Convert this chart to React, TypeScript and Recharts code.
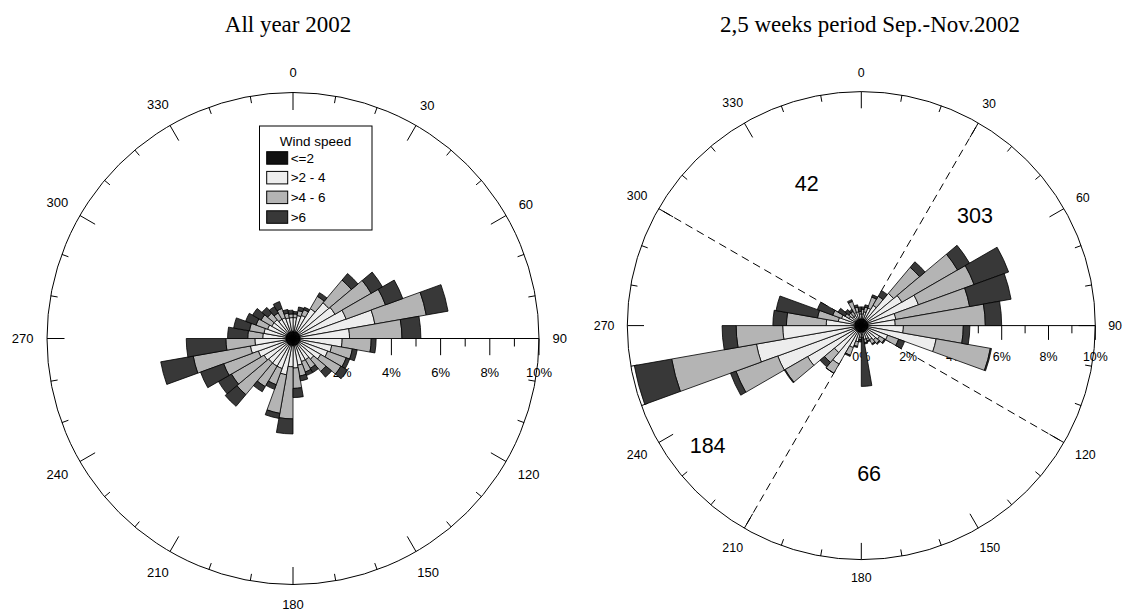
import React from 'react';
import {
  RadialBarChart,
  RadialBar,
  RadarChart,
  Radar,
  PolarAngleAxis,
  PolarRadiusAxis,
  PolarGrid,
} from 'recharts';

const W = 1123;
const H = 611;
const SANS = '"Liberation Sans", Arial, Helvetica, sans-serif';
const SERIF = '"Liberation Serif", "Times New Roman", serif';

// ---- categories / ticks ----
const sectorCentres = [5, 15, 25, 35, 45, 55, 65, 75, 85, 95, 105, 115, 125, 135, 145, 155, 165, 175, 185, 195, 205, 215, 225, 235, 245, 255, 265, 275, 285, 295, 305, 315, 325, 335, 345, 355];
const compassTicks = [0, 10, 20, 30, 40, 50, 60, 70, 80, 90, 100, 110, 120, 130, 140, 150, 160, 170, 180, 190, 200, 210, 220, 230, 240, 250, 260, 270, 280, 290, 300, 310, 320, 330, 340, 350];
const percentTicks = [0, 1, 2, 3, 4, 5, 6, 7, 8, 9, 10];
const speedClasses = ['<=2', '>2 - 4', '>4 - 6', '>6'];
const titles = ['All year 2002', '2,5 weeks period Sep.-Nov.2002'];

// ---- All year 2002: cumulative frequency (%) up to each speed class ----
const yearTo2 = [0.3, 0.3, 0.3, 0.3, 0.3, 0.3, 0.3, 0.3, 0.3, 0.3, 0.3, 0.3, 0.3, 0.3, 0.3, 0.3, 0.3, 0.3, 0.3, 0.3, 0.3, 0.3, 0.3, 0.3, 0.3, 0.3, 0.3, 0.3, 0.3, 0.3, 0.3, 0.3, 0.3, 0.3, 0.3, 0.3];
const yearTo4 = [0.85, 0.95, 1.0, 1.4, 1.9, 1.97, 2.3, 3.38, 2.3, 2.0, 1.6, 1.5, 1.3, 1.1, 1.0, 1.0, 1.1, 1.2, 1.15, 1.5, 1.3, 1.3, 1.3, 1.36, 1.5, 1.76, 1.55, 1.23, 1.2, 1.1, 1.0, 1.0, 0.9, 0.9, 0.85, 0.85];
const yearTo6 = [1.0, 1.15, 1.25, 1.98, 3.1, 3.67, 4.0, 5.5, 4.43, 3.18, 2.45, 2.3, 2.25, 1.75, 1.4, 1.45, 1.55, 2.03, 3.27, 3.09, 2.0, 2.26, 2.98, 2.89, 3.0, 4.12, 2.73, 1.84, 1.8, 1.6, 1.5, 1.35, 1.2, 1.3, 1.05, 1.0];
const yearTotal = [1.1, 1.3, 1.35, 2.15, 3.45, 4.2, 4.75, 6.4, 5.2, 3.38, 2.65, 2.45, 2.55, 2.05, 1.6, 1.6, 1.75, 2.4, 3.88, 3.3, 2.2, 2.5, 3.6, 3.5, 4.0, 5.46, 4.34, 2.66, 2.45, 2.05, 1.9, 1.65, 1.5, 1.6, 1.2, 1.15];

// ---- 2,5 weeks Sep.-Nov. 2002 ----
const autumnTo2 = [0.3, 0.3, 0.3, 0.3, 0.3, 0.3, 0.3, 0.3, 0.3, 0.3, 0.3, 0.3, 0.3, 0.3, 0.3, 0.3, 0.3, 0.3, 0.3, 0.3, 0.3, 0.3, 0.3, 0.3, 0.3, 0.3, 0.3, 0.3, 0.3, 0.3, 0.3, 0.3, 0.3, 0.3, 0.3, 0.3];
const autumnTo4 = [0.5, 0.6, 0.8, 1.0, 1.8, 2.0, 2.6, 1.5, 1.45, 1.8, 3.25, 1.2, 0.9, 0.8, 0.7, 0.6, 0.6, 0.4, 0.5, 0.7, 1.0, 1.9, 1.5, 2.65, 3.8, 4.55, 3.36, 1.5, 1.0, 0.9, 0.6, 0.5, 0.5, 0.6, 0.6, 0.5];
const autumnTo6 = [0.7, 0.8, 1.3, 1.45, 3.25, 4.75, 5.13, 4.7, 5.3, 4.36, 5.6, 1.7, 1.15, 1.0, 0.9, 0.7, 0.75, 0.5, 0.6, 0.9, 1.35, 2.35, 2.05, 3.76, 5.7, 8.23, 5.35, 3.2, 1.9, 1.3, 0.8, 0.7, 0.7, 1.1, 0.8, 0.6];
const autumnTotal = [0.8, 0.9, 1.4, 1.73, 3.56, 5.34, 6.7, 6.5, 6.0, 4.64, 5.65, 1.97, 1.2, 1.05, 0.95, 0.75, 0.8, 2.6, 0.7, 0.95, 1.4, 2.35, 2.3, 3.8, 5.95, 9.85, 5.95, 3.78, 3.7, 2.0, 1.15, 0.9, 0.8, 1.18, 0.9, 0.8];

// sector counts between the dashed bounds (right rose)
const quadrantCounts = ['42', '303', '66', '184'];
const quadrantBounds = [30, 120, 210, 300];

// ---- styling ----
const classKeys = ['s1', 's2', 's3', 's4'];
const classColors = ['#111111', '#ededed', '#b4b4b4', '#383838'];

type Frame = {
  cx: number; cy: number; r: number; fs: number;
  major: number; minor: number; rLong: number; rShort: number; rLabel: number;
};

const LEFT: Frame = { cx: 293, cy: 338.5, r: 246, fs: 13, major: 17.5, minor: 7, rLong: 16.7, rShort: 8, rLabel: 33.5 };
const RIGHT: Frame = { cx: 861.3, cy: 325.6, r: 234, fs: 12.4, major: 16.7, minor: 6.7, rLong: 14.3, rShort: 7.7, rLabel: 31 };

// label placement for quadrant counts (bearing, distance from centre)
const quadrantLabelPos = [
  { bearing: 339, dist: 152 },
  { bearing: 46, dist: 158 },
  { bearing: 177, dist: 149 },
  { bearing: 232, dist: 195 },
];

function buildRose(to2: number[], to4: number[], to6: number[], total: number[]) {
  return sectorCentres.map((dir, i) => ({
    dir,
    s1: to2[i],
    s2: +(to4[i] - to2[i]).toFixed(3),
    s3: +(to6[i] - to4[i]).toFixed(3),
    s4: +(total[i] - to6[i]).toFixed(3),
  }));
}

const yearData = buildRose(yearTo2, yearTo4, yearTo6, yearTotal);
const autumnData = buildRose(autumnTo2, autumnTo4, autumnTo6, autumnTotal);
const frameData = compassTicks.map((dir) => ({ dir, zero: 0 }));

const makeAngleTick = (f: Frame) => (props: any) => {
  const value = Number(props?.payload?.value);
  const coord = Number(props?.payload?.coordinate);
  const rad = (coord * Math.PI) / 180;
  const ux = Math.cos(rad);
  const uy = -Math.sin(rad);
  const isMajor = value % 30 === 0;
  const len = isMajor ? f.major : f.minor;
  const s = f.r / 246;
  const x1 = f.cx + f.r * ux;
  const y1 = f.cy + f.r * uy;
  const x2 = f.cx + (f.r - len) * ux;
  const y2 = f.cy + (f.r - len) * uy;
  let label: React.ReactNode = null;
  if (isMajor) {
    const txt = String(value);
    const w = txt.length * 0.556 * f.fs;
    const d = f.r + 13.5 * s + (Math.abs(ux) * w) / 2 + Math.abs(uy) * 6.3 * s;
    label = (
      <text x={f.cx + d * ux} y={f.cy + d * uy} textAnchor="middle" dominantBaseline="central"
        fontSize={f.fs} fontFamily={SANS} fill="#000" stroke="none">{txt}</text>
    );
  }
  return (
    <g>
      <line x1={x1} y1={y1} x2={x2} y2={y2} stroke="#000" strokeWidth={1} />
      {label}
    </g>
  );
};

const makeRadiusTick = (f: Frame) => (props: any) => {
  const x = Number(props.x);
  const y = Number(props.y);
  const v = Number(props?.payload?.value);
  const even = v % 2 === 0;
  return (
    <g>
      <line x1={x} y1={y} x2={x} y2={y + (even ? f.rLong : f.rShort)} stroke="#000" strokeWidth={1} />
      {even && (
        <text x={x} y={y + f.rLabel} textAnchor="middle" dominantBaseline="central"
          fontSize={f.fs} fontFamily={SANS} fill="#000" stroke="none">{`${v}%`}</text>
      )}
    </g>
  );
};

const abs: React.CSSProperties = { position: 'absolute', left: 0, top: 0 };
const noMargin = { top: 0, right: 0, bottom: 0, left: 0 };

function Frame({ f, dashed }: { f: Frame; dashed?: number[] }) {
  return (
    <RadarChart width={W} height={H} data={frameData} cx={f.cx} cy={f.cy} innerRadius={0} outerRadius={f.r}
      startAngle={90} endAngle={-270} margin={noMargin}>
      {dashed && (
        <PolarGrid gridType="circle" polarAngles={dashed.map((b) => 90 - b)} polarRadius={[]}
          stroke="#000" strokeWidth={1} strokeDasharray="8 5" />
      )}
      <PolarAngleAxis dataKey="dir" type="category" axisLineType="circle"
        axisLine={{ stroke: '#000', strokeWidth: 1 }} tickLine={false} tick={makeAngleTick(f)} />
      <PolarRadiusAxis angle={0} type="number" domain={[0, 10]} ticks={percentTicks as any} tickCount={11}
        axisLine={{ stroke: '#000', strokeWidth: 1 }} tick={makeRadiusTick(f)} />
      <Radar dataKey="zero" fill="none" stroke="none" dot={false} isAnimationActive={false} />
    </RadarChart>
  );
}

// The category band for each sector starts one band earlier than its tick, so the
// rose's angular range is offset by one 10-degree sector to put sector 0-10 at north.
function Rose({ f, data }: { f: Frame; data: any[] }) {
  return (
    <RadialBarChart width={W} height={H} data={data} cx={f.cx} cy={f.cy} innerRadius={0} outerRadius={f.r}
      startAngle={80} endAngle={-280} layout="centric" barCategoryGap={0} barGap={0} margin={noMargin}>
      <PolarAngleAxis type="category" dataKey="dir" tick={false} tickLine={false} axisLine={false} />
      <PolarRadiusAxis type="number" domain={[0, 10]} tick={false} axisLine={false} />
      {classKeys.map((k, i) => (
        <RadialBar key={k} dataKey={k} stackId="wind" fill={classColors[i]} stroke="#000" strokeWidth={0.8}
          isAnimationActive={false} />
      ))}
    </RadialBarChart>
  );
}

export default function App() {
  const legendX = 259.5;
  const legendY = 126;
  return (
    <div style={{ position: 'absolute', left: 0, top: 0, width: W, height: H, background: '#fff', overflow: 'hidden' }}>
      <div style={abs}><Frame f={LEFT} /></div>
      <div style={abs}><Frame f={RIGHT} dashed={quadrantBounds} /></div>
      <div style={abs}><Rose f={LEFT} data={yearData} /></div>
      <div style={abs}><Rose f={RIGHT} data={autumnData} /></div>
      <svg width={W} height={H} style={{ ...abs, pointerEvents: 'none' }}>
        <text x={288} y={32.3} textAnchor="middle" fontFamily={SERIF} fontSize={23} fill="#000">{titles[0]}</text>
        <text x={870} y={32.3} textAnchor="middle" fontFamily={SERIF} fontSize={23} fill="#000">{titles[1]}</text>
        {quadrantCounts.map((c, i) => {
          const p = quadrantLabelPos[i];
          const rad = (p.bearing * Math.PI) / 180;
          return (
            <text key={c} x={RIGHT.cx + p.dist * Math.sin(rad)} y={RIGHT.cy - p.dist * Math.cos(rad)}
              textAnchor="middle" dominantBaseline="central" fontFamily={SANS} fontSize={21.5} fill="#000">{c}</text>
          );
        })}
        <rect x={legendX} y={legendY} width={112.5} height={104} fill="#fff" stroke="#000" strokeWidth={1} />
        <text x={legendX + 56} y={legendY + 15.7} textAnchor="middle" dominantBaseline="central"
          fontFamily={SANS} fontSize={13.5} fill="#000">Wind speed</text>
        {speedClasses.map((label, i) => {
          const top = legendY + 25.7 + i * 19.7;
          return (
            <g key={label}>
              <rect x={legendX + 7.2} y={top} width={21} height={12.5} fill={classColors[i]} stroke="#000" strokeWidth={1} />
              <text x={legendX + 31.2} y={top + 6.5} dominantBaseline="central" fontFamily={SANS} fontSize={13.5} fill="#000">{label}</text>
            </g>
          );
        })}
      </svg>
    </div>
  );
}
